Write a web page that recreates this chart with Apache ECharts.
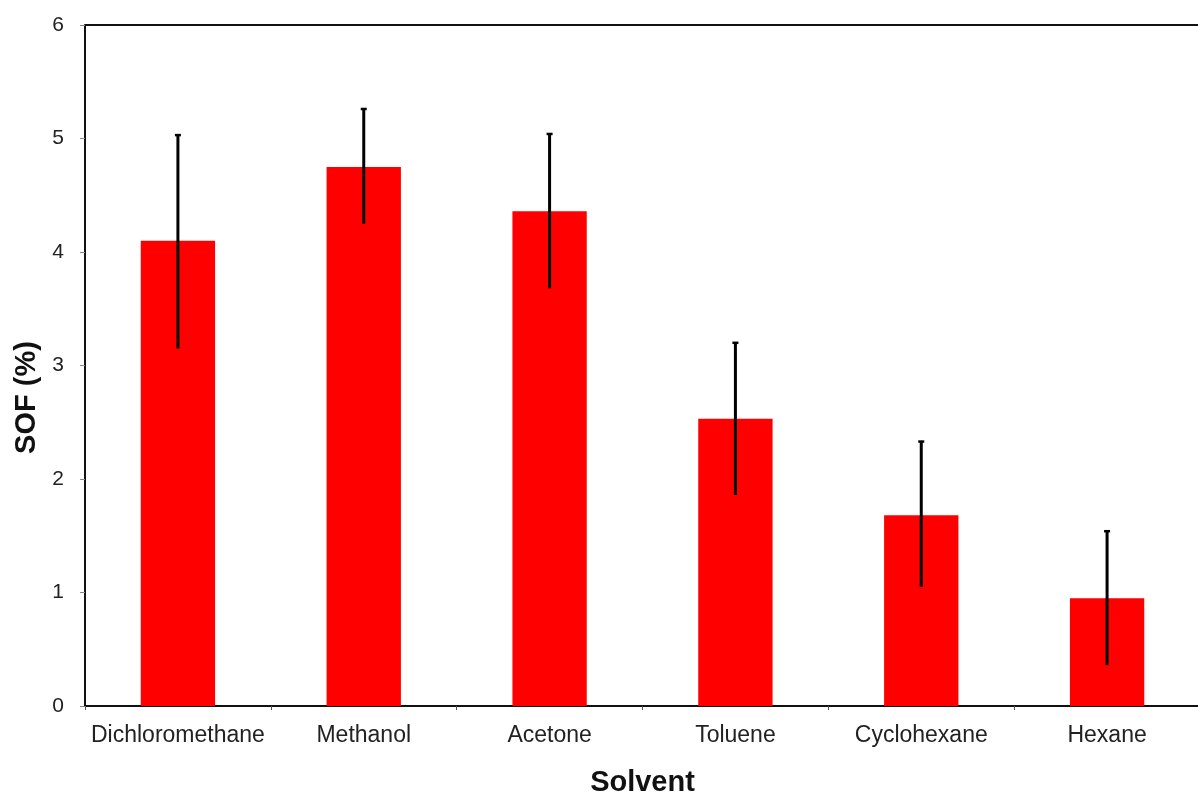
<!DOCTYPE html>
<html><head><meta charset="utf-8">
<script src="https://cdn.jsdelivr.net/npm/echarts@6/dist/echarts.min.js"></script>
<style>html,body{margin:0;padding:0;background:#fff}#c{width:1198px;height:794px}</style>
</head><body><div id="c"></div>
<script>
const categories = ['Dichloromethane','Methanol','Acetone','Toluene','Cyclohexane','Hexane'];
const sofValues = [4.10, 4.75, 4.36, 2.53, 1.68, 0.95];
const errLow = [3.15, 4.25, 3.68, 1.86, 1.05, 0.36];
const errHigh = [5.03, 5.26, 5.04, 3.20, 2.33, 1.54];
const yTicks = [0,1,2,3,4,5,6];

const chart = echarts.init(document.getElementById('c'));
const errData = categories.map((c,i)=>[i, errLow[i], errHigh[i]]);
const FF = 'Liberation Sans, Arial, sans-serif';
chart.setOption({
  animation:false,
  backgroundColor:'#fff',
  grid:{left:85,top:25,right:-2,bottom:88,containLabel:false,outerBoundsMode:'none'},
  xAxis:{
    type:'category', data:categories,
    axisLine:{show:true,lineStyle:{color:'#111',width:2}},
    axisTick:{show:true,alignWithLabel:false,interval:0,length:4,lineStyle:{color:'#555'}},
    axisLabel:{color:'#222',fontSize:23,fontFamily:FF,margin:18,interval:0,hideOverlap:false},
    name:'Solvent', nameLocation:'middle', nameGap:62,
    nameTextStyle:{fontSize:29,fontWeight:'bold',color:'#111',fontFamily:FF}
  },
  yAxis:{
    type:'value', min:0, max:6, interval:1,
    axisLine:{show:true,lineStyle:{color:'#111',width:2}},
    axisTick:{show:true,inside:false,length:5,lineStyle:{color:'#888'}},
    axisLabel:{color:'#222',fontSize:21,fontFamily:FF,margin:21,
      formatter:v=>yTicks.includes(v)?String(v):''},
    splitLine:{show:false},
    name:'SOF (%)', nameLocation:'middle', nameGap:44, nameRotate:90,
    nameTextStyle:{fontSize:29,fontWeight:'bold',color:'#111',fontFamily:FF,padding:[0,64,0,0]}
  },
  series:[
    {type:'bar', data:sofValues, barWidth:'40%', itemStyle:{color:'#ff0000'}, z:2},
    {type:'custom', data:errData, z:5,
      renderItem:(params,api)=>{
        const i=api.value(0);
        const lo=api.coord([i,api.value(1)]);
        const hi=api.coord([i,api.value(2)]);
        const w=3;
        return {type:'group',children:[
          {type:'line',shape:{x1:hi[0],y1:hi[1],x2:lo[0],y2:lo[1]},style:{stroke:'#000',lineWidth:3}},
          {type:'line',shape:{x1:hi[0]-w,y1:hi[1],x2:hi[0]+w,y2:hi[1]},style:{stroke:'#000',lineWidth:2.5}}
        ]};
      }
    },
    {type:'line', data:[], markLine:{silent:true,symbol:'none',label:{show:false},
      lineStyle:{color:'#111',width:2,type:'solid'},data:[{yAxis:6}]}}
  ]
});
</script></body></html>
